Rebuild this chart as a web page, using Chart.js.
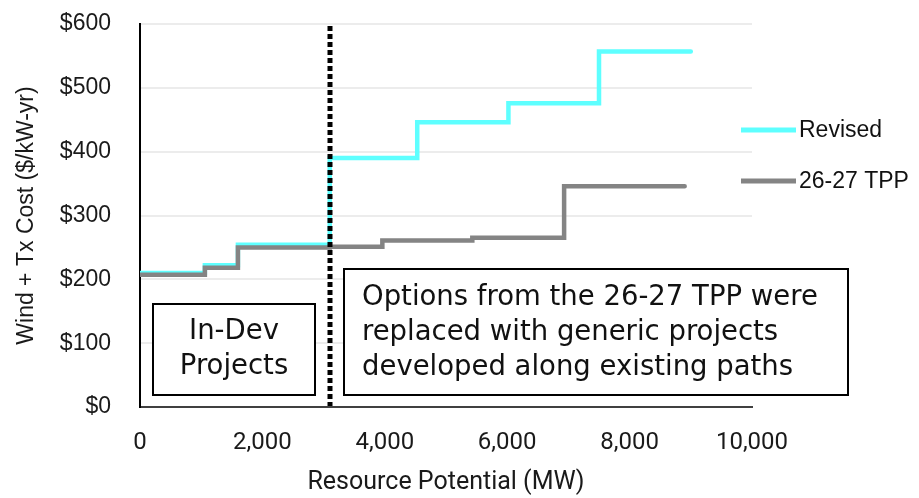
<!DOCTYPE html>
<html>
<head>
<meta charset="utf-8">
<script src="https://cdn.jsdelivr.net/npm/chart.js@4.4.1/dist/chart.umd.min.js"></script>
<style>
  html, body { margin: 0; padding: 0; background: #fff; }
  #wrap { width: 919px; height: 498px; }
</style>
</head>
<body>
<div id="wrap"><canvas id="costChart" width="919" height="498"></canvas></div>
<script>
// 1. Data - each point is where a step starts (MW, $/kW-yr), last one closes the line
const revisedMW   = [0, 1060, 1600, 3100, 4530, 6020, 7500, 9000];
const revisedCost = [210, 222, 254, 390, 446, 476, 557, 557];
const tppMW   = [0, 1060, 1600, 3100, 3960, 5430, 6930, 8900];
const tppCost = [207, 218, 250, 251, 261, 265, 346, 346];
const seriesNames = ['Revised', '26-27 TPP'];
const seriesColors = ['#5effff', '#848484'];

const xTickValues = [0, 2000, 4000, 6000, 8000, 10000];
const xTickLabels = ['0', '2,000', '4,000', '6,000', '8,000', '10,000'];
const yTickValues = [0, 100, 200, 300, 400, 500, 600];
const yTickLabels = ['$0', '$100', '$200', '$300', '$400', '$500', '$600'];

const inDevLimitMW = 3100;
const inDevText = ['In-Dev', 'Projects'];
const optionsText = ['Options from the 26-27 TPP were', 'replaced with generic projects', 'developed along existing paths'];

const toPoints = (xs, ys) => xs.map((x, i) => ({ x: x, y: ys[i] }));

// 2. Overlays: divider, note boxes, legend
const noteFont = '27.5px "DejaVu Sans"';

function drawNote(ctx, x, y, w, h, lines, align, textX, firstY, step) {
    ctx.fillStyle = '#fff';
    ctx.fillRect(x, y, w, h);
    ctx.strokeStyle = '#000';
    ctx.lineWidth = 2;
    ctx.strokeRect(x, y, w, h);
    ctx.fillStyle = '#111';
    ctx.font = noteFont;
    ctx.textAlign = align;
    ctx.textBaseline = 'middle';
    lines.forEach((t, i) => ctx.fillText(t, textX, firstY + i * step));
}

const overlays = {
    id: 'overlays',
    afterDatasetsDraw(chart) {
        const ctx = chart.ctx, xs = chart.scales.x, area = chart.chartArea;
        ctx.save();
        const dx = Math.round(xs.getPixelForValue(inDevLimitMW));
        ctx.strokeStyle = '#000';
        ctx.lineWidth = 5;
        ctx.setLineDash([5, 3]);
        ctx.beginPath();
        ctx.moveTo(dx, area.top + 2);
        ctx.lineTo(dx, area.bottom - 1);
        ctx.stroke();
        ctx.setLineDash([]);

        drawNote(ctx, 153, 304, 162, 91, inDevText, 'center', 234, 332, 35);
        drawNote(ctx, 344, 269, 504, 126, optionsText, 'left', 362, 298, 35);

        // legend
        const legendY = [130, 181];
        ctx.font = '23px "Liberation Sans", Arial, sans-serif';
        ctx.textAlign = 'left';
        ctx.textBaseline = 'middle';
        seriesNames.forEach((name, i) => {
            ctx.strokeStyle = seriesColors[i];
            ctx.lineWidth = 5;
            ctx.beginPath();
            ctx.moveTo(741, legendY[i]);
            ctx.lineTo(796, legendY[i]);
            ctx.stroke();
            ctx.fillStyle = '#111';
            ctx.fillText(name, 799, legendY[i] + 1);
        });
        ctx.restore();
    }
};

// 3. Chart
const ctx = document.getElementById('costChart').getContext('2d');
new Chart(ctx, {
    type: 'line',
    data: {
        datasets: [
            { label: seriesNames[0], data: toPoints(revisedMW, revisedCost), borderColor: seriesColors[0],
              borderWidth: 4.5, stepped: true, pointRadius: 0, borderCapStyle: 'round', order: 1 },
            { label: seriesNames[1], data: toPoints(tppMW, tppCost), borderColor: seriesColors[1],
              borderWidth: 4.5, stepped: true, pointRadius: 0, borderCapStyle: 'round', order: 0 }
        ]
    },
    options: {
        responsive: false,
        animation: false,
        devicePixelRatio: 1,
        layout: { padding: { top: 24, right: 167, bottom: 0, left: 0 } },
        plugins: { legend: { display: false }, tooltip: { enabled: false } },
        scales: {
            x: {
                type: 'linear', min: 0, max: 10000,
                afterBuildTicks: s => { s.ticks = xTickValues.map(v => ({ value: v })); },
                afterFit: s => { s.height = 91; s.paddingLeft = 0; s.paddingRight = 0; },
                grid: { display: false, drawTicks: false },
                border: { color: '#404040', width: 2 },
                ticks: {
                    padding: 22, color: '#1a1a1a', maxRotation: 0,
                    font: { family: 'Roboto', size: 24 },
                    callback: (v, i) => xTickLabels[i]
                },
                title: {
                    display: true, text: 'Resource Potential (MW)', color: '#1a1a1a',
                    font: { family: 'Roboto', size: 25, lineHeight: 1.2 },
                    padding: { top: 0, bottom: 0 }
                }
            },
            y: {
                min: 0, max: 600,
                afterBuildTicks: s => { s.ticks = yTickValues.map(v => ({ value: v })); },
                afterFit: s => { s.width = 140; s.paddingTop = 0; s.paddingBottom = 0; },
                grid: { color: '#ececec', lineWidth: 2, drawTicks: false },
                border: { color: '#000', width: 2 },
                ticks: {
                    padding: 29, color: '#1a1a1a',
                    font: { family: '"Liberation Sans", Arial, sans-serif', size: 23 },
                    callback: (v, i) => yTickLabels[i]
                },
                title: {
                    display: true, text: 'Wind + Tx Cost ($/kW-yr)', color: '#1a1a1a',
                    font: { family: '"Liberation Sans", Arial, sans-serif', size: 23, lineHeight: 1.2 },
                    padding: { top: 13, bottom: 0 }
                }
            }
        }
    },
    plugins: [overlays]
});
</script>
</body>
</html>
